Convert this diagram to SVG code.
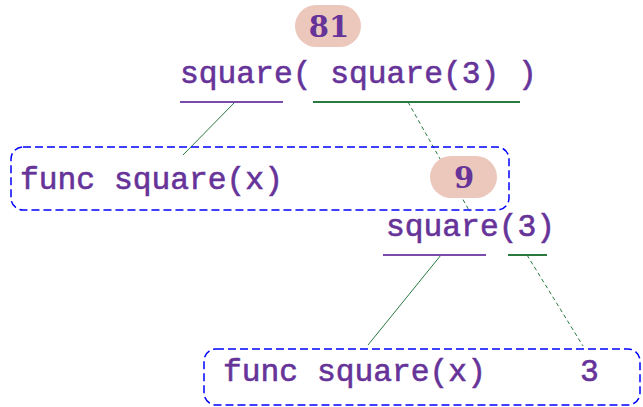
<svg xmlns="http://www.w3.org/2000/svg" width="643" height="407" viewBox="0 0 643 407">
  <style>
    .code { font-family: "Liberation Mono", "Courier New", monospace; font-size: 31.3px; fill: #663399; stroke: #663399; stroke-width: 0.6; }
    .val { font-family: "DejaVu Serif", "Liberation Serif", serif; font-size: 29px; font-weight: bold; fill: #663399; text-anchor: middle; }
    .pill { fill: #ecc8bc; }
    .frame { fill: none; stroke: #0000ff; stroke-width: 1.5; stroke-dasharray: 8 4; }
    .ul-p { stroke: #7b4bab; stroke-width: 2; }
    .ul-g { stroke: #2a7a40; stroke-width: 2; }
    .link { stroke: #2a7a40; stroke-width: 1; fill: none; }
    .link.dash { stroke-dasharray: 4 3; }
  </style>

  <g id="connectors">
    <line class="link" x1="235" y1="102" x2="183" y2="155"/>
    <line class="link dash" x1="408" y1="102" x2="470" y2="212"/>
    <line class="link" x1="441" y1="255" x2="368" y2="345"/>
    <line class="link dash" x1="527" y1="255" x2="583" y2="346"/>
  </g>

  <g id="call-outer">
    <text class="code" x="180" y="83">square( square(3) )</text>
    <line class="ul-p" x1="180" y1="102" x2="283" y2="102"/>
    <line class="ul-g" x1="313" y1="102" x2="520" y2="102"/>
  </g>

  <g id="result-81">
    <rect class="pill" x="295" y="5" width="66" height="42" rx="21"/>
    <text class="val" x="329" y="37">81</text>
  </g>

  <g id="frame-outer">
    <rect class="frame" x="11" y="147" width="498" height="63" rx="12"/>
    <text class="code" x="20" y="189">func square(x)</text>
  </g>

  <g id="result-9">
    <rect class="pill" x="430" y="156" width="67" height="42" rx="21"/>
    <text class="val" x="464" y="188">9</text>
  </g>

  <g id="call-inner">
    <text class="code" x="386" y="236">square(3)</text>
    <line class="ul-p" x1="383" y1="255" x2="486" y2="255"/>
    <line class="ul-g" x1="508" y1="255" x2="547" y2="255"/>
  </g>

  <g id="frame-inner">
    <rect class="frame" x="204" y="349" width="436" height="56" rx="12"/>
    <text class="code" x="223" y="381">func square(x)</text>
    <text class="code" x="580" y="381">3</text>
  </g>
</svg>
